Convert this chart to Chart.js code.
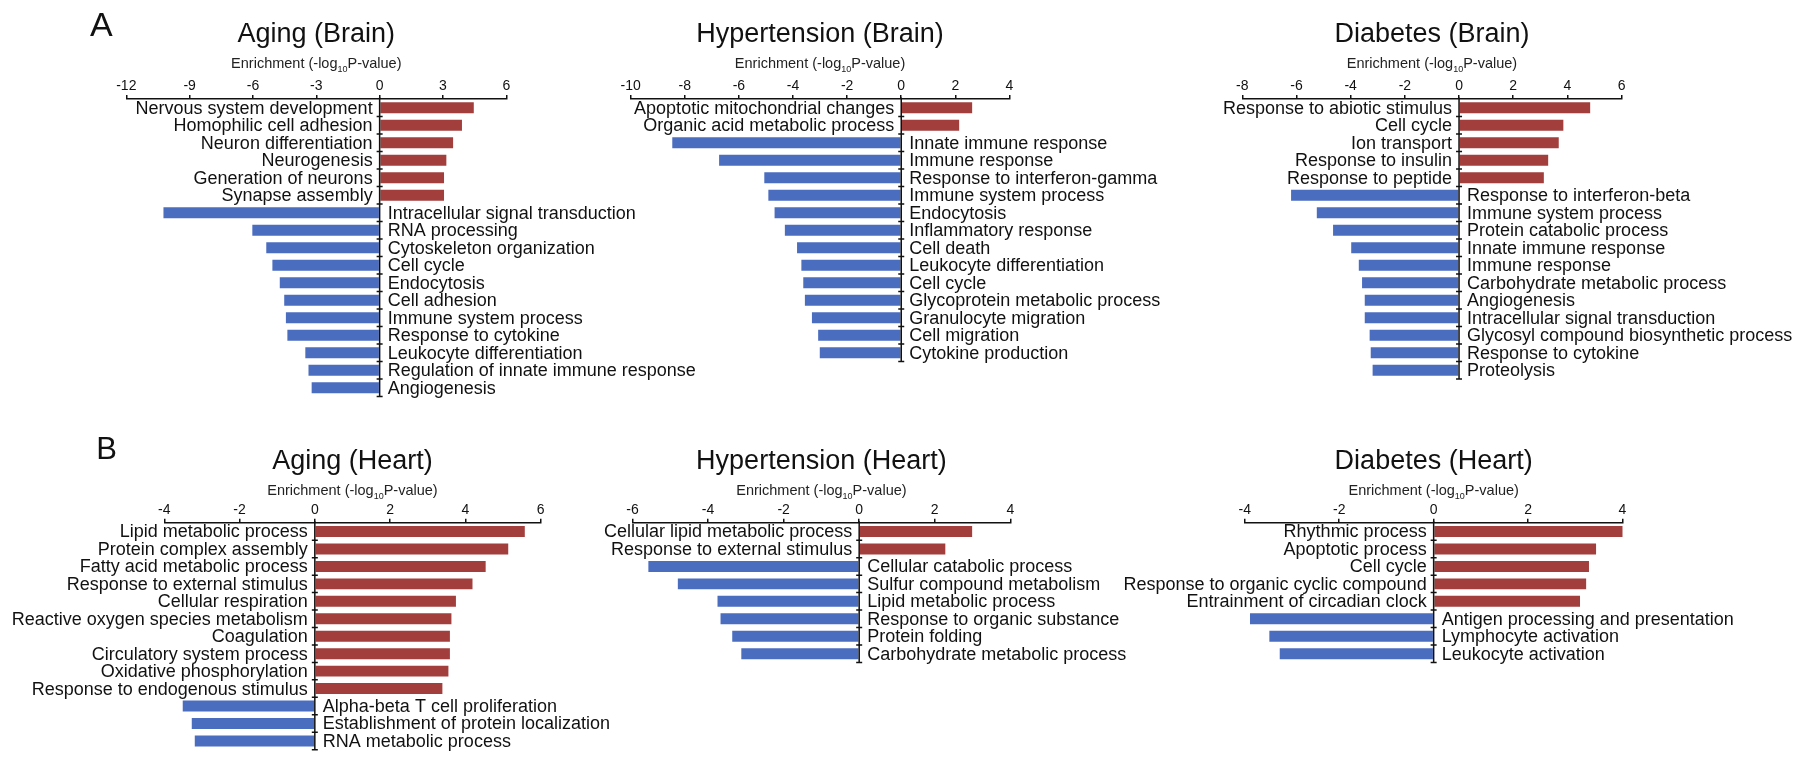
<!DOCTYPE html>
<html>
<head>
<meta charset="utf-8">
<script src="https://cdn.jsdelivr.net/npm/chart.js@4.4.1/dist/chart.umd.min.js"></script>
<style>
  html, body { margin: 0; padding: 0; background: #fff; }
  #page { position: relative; width: 1800px; height: 758px; overflow: hidden; background: #fff; }
  #page canvas { position: absolute; left: 0; }
</style>
</head>
<body>
<div id="page">
  <canvas id="agingBrain" width="1800" height="420" style="top:0px"></canvas>
  <canvas id="hypertensionBrain" width="1800" height="420" style="top:0px"></canvas>
  <canvas id="diabetesBrain" width="1800" height="420" style="top:0px"></canvas>
  <canvas id="agingHeart" width="1800" height="338" style="top:420px"></canvas>
  <canvas id="hypertensionHeart" width="1800" height="338" style="top:420px"></canvas>
  <canvas id="diabetesHeart" width="1800" height="338" style="top:420px"></canvas>
</div>
<script>
// --- data (-log10 P, negative = down-regulated) ---
const agingBrainLabels = ['Nervous system development', 'Homophilic cell adhesion', 'Neuron differentiation', 'Neurogenesis',
  'Generation of neurons', 'Synapse assembly', 'Intracellular signal transduction', 'RNA processing', 'Cytoskeleton organization',
  'Cell cycle', 'Endocytosis', 'Cell adhesion', 'Immune system process', 'Response to cytokine', 'Leukocyte differentiation',
  'Regulation of innate immune response', 'Angiogenesis'];
const agingBrainValues = [4.46, 3.9, 3.48, 3.16, 3.05, 3.05, -10.24, -6.03, -5.37, -5.08, -4.73, -4.52, -4.44, -4.37, -3.52, -3.37, -3.22];
const agingBrainAxis = [-12, 6, 3];

const hypertensionBrainLabels = ['Apoptotic mitochondrial changes', 'Organic acid metabolic process', 'Innate immune response',
  'Immune response', 'Response to interferon-gamma', 'Immune system process', 'Endocytosis', 'Inflammatory response', 'Cell death',
  'Leukocyte differentiation', 'Cell cycle', 'Glycoprotein metabolic process', 'Granulocyte migration', 'Cell migration',
  'Cytokine production'];
const hypertensionBrainValues = [2.62, 2.14, -8.46, -6.73, -5.06, -4.91, -4.68, -4.30, -3.85, -3.69, -3.62, -3.56, -3.30, -3.07, -3.01];
const hypertensionBrainAxis = [-10, 4, 2];

const diabetesBrainLabels = ['Response to abiotic stimulus', 'Cell cycle', 'Ion transport', 'Response to insulin', 'Response to peptide',
  'Response to interferon-beta', 'Immune system process', 'Protein catabolic process', 'Innate immune response', 'Immune response',
  'Carbohydrate metabolic process', 'Angiogenesis', 'Intracellular signal transduction', 'Glycosyl compound biosynthetic process',
  'Response to cytokine', 'Proteolysis'];
const diabetesBrainValues = [4.84, 3.85, 3.68, 3.29, 3.13, -6.20, -5.25, -4.65, -3.98, -3.70, -3.58, -3.48, -3.48, -3.30, -3.26, -3.19];
const diabetesBrainAxis = [-8, 6, 2];

const agingHeartLabels = ['Lipid metabolic process', 'Protein complex assembly', 'Fatty acid metabolic process',
  'Response to external stimulus', 'Cellular respiration', 'Reactive oxygen species metabolism', 'Coagulation',
  'Circulatory system process', 'Oxidative phosphorylation', 'Response to endogenous stimulus', 'Alpha-beta T cell proliferation',
  'Establishment of protein localization', 'RNA metabolic process'];
const agingHeartValues = [5.58, 5.14, 4.54, 4.19, 3.75, 3.63, 3.59, 3.59, 3.55, 3.39, -3.51, -3.27, -3.19];
const agingHeartAxis = [-4, 6, 2];

const hypertensionHeartLabels = ['Cellular lipid metabolic process', 'Response to external stimulus', 'Cellular catabolic process',
  'Sulfur compound metabolism', 'Lipid metabolic process', 'Response to organic substance', 'Protein folding',
  'Carbohydrate metabolic process'];
const hypertensionHeartValues = [2.99, 2.28, -5.58, -4.80, -3.75, -3.67, -3.36, -3.12];
const hypertensionHeartAxis = [-6, 4, 2];

const diabetesHeartLabels = ['Rhythmic process', 'Apoptotic process', 'Cell cycle', 'Response to organic cyclic compound',
  'Entrainment of circadian clock', 'Antigen processing and presentation', 'Lymphocyte activation', 'Leukocyte activation'];
const diabetesHeartValues = [4.08, 3.44, 3.29, 3.23, 3.10, -3.89, -3.48, -3.26];
const diabetesHeartAxis = [-4, 4, 2];

const RED = '#a23f3d';
const BLUE = '#4b6dc0';
const INK = '#111';
const FONT = "'Liberation Sans', Arial, Helvetica, sans-serif";

// row geometry (canvas-local pixels): plot top, band height, text baselines
const rows = {
  A: { height: 420, top: 99, band: 17.5, titleBase: 41.7, enrichBase: 68.3, letterBase: 36, letterSize: 34 },
  B: { height: 338, top: 102.8, band: 17.45, titleBase: 49.3, enrichBase: 75, letterBase: 38.5, letterSize: 31 }
};

// draws the zero axis, category ticks, term labels, titles and panel letter
const panelDecor = {
  id: 'panelDecor',
  afterDatasetsDraw(chart, args, opts) {
    const { ctx, chartArea } = chart;
    const xs = chart.scales.x, ys = chart.scales.y;
    const x0 = xs.getPixelForValue(0);
    const labels = chart.data.labels;
    const values = chart.data.datasets[0].data;
    const band = (chartArea.bottom - chartArea.top) / labels.length;
    const r = opts.row;

    ctx.save();
    ctx.strokeStyle = INK;
    ctx.lineWidth = 1.5;
    ctx.beginPath();
    ctx.moveTo(x0, chartArea.top - 1.5);
    ctx.lineTo(x0, chartArea.bottom);
    for (let i = 0; i < labels.length; i++) {
      const yy = ys.getPixelForValue(i) + band / 2;
      ctx.moveTo(x0 - 3, yy);
      ctx.lineTo(x0 + 3, yy);
    }
    ctx.stroke();

    ctx.fillStyle = INK;
    ctx.font = `18px ${FONT}`;
    ctx.textBaseline = 'middle';
    labels.forEach((lab, i) => {
      const yy = ys.getPixelForValue(i) + 1;
      if (values[i] > 0) {
        ctx.textAlign = 'right';
        ctx.fillText(lab, x0 - 7, yy);
      } else {
        ctx.textAlign = 'left';
        ctx.fillText(lab, x0 + 8, yy);
      }
    });

    const cx = (chartArea.left + chartArea.right) / 2;
    ctx.textBaseline = 'alphabetic';
    ctx.textAlign = 'center';
    ctx.font = `27px ${FONT}`;
    ctx.fillText(opts.title, cx, r.titleBase);

    // axis title with subscript 10
    const ey = r.enrichBase;
    const parts = ['Enrichment (-log', '10', 'P-value)'];
    ctx.fillStyle = '#222';
    ctx.font = `14.5px ${FONT}`;
    const w1 = ctx.measureText(parts[0]).width;
    const w3 = ctx.measureText(parts[2]).width;
    ctx.font = `9px ${FONT}`;
    const w2 = ctx.measureText(parts[1]).width;
    let sx = cx - (w1 + w2 + w3) / 2;
    ctx.textAlign = 'left';
    ctx.font = `14.5px ${FONT}`;
    ctx.fillText(parts[0], sx, ey);
    sx += w1;
    ctx.font = `9px ${FONT}`;
    ctx.fillText(parts[1], sx, ey + 4);
    sx += w2;
    ctx.font = `14.5px ${FONT}`;
    ctx.fillText(parts[2], sx, ey);

    if (opts.letter) {
      ctx.fillStyle = INK;
      ctx.textAlign = 'center';
      ctx.font = `${r.letterSize}px ${FONT}`;
      ctx.fillText(opts.letter, opts.letterX, r.letterBase);
    }
    ctx.restore();
  }
};

function makePanel(id, row, labels, values, axis, left, right, title, letter, letterX) {
  const r = rows[row];
  const axisHeight = 30;
  new Chart(document.getElementById(id), {
    type: 'bar',
    data: {
      labels: labels,
      datasets: [{
        data: values,
        backgroundColor: values.map(v => v > 0 ? RED : BLUE),
        borderWidth: 0,
        barPercentage: 0.63,
        categoryPercentage: 1
      }]
    },
    options: {
      indexAxis: 'y',
      responsive: false,
      animation: false,
      devicePixelRatio: 1,
      layout: {
        padding: {
          left: left,
          right: 1800 - right,
          top: r.top - axisHeight,
          bottom: r.height - r.top - labels.length * r.band
        }
      },
      scales: {
        x: {
          position: 'top',
          min: axis[0],
          max: axis[1],
          ticks: {
            stepSize: axis[2],
            color: INK,
            font: { size: 14, family: FONT },
            padding: 0,
            maxRotation: 0,
            autoSkip: false
          },
          grid: {
            display: true,
            drawOnChartArea: false,
            drawTicks: true,
            tickLength: 4,
            color: INK,
            lineWidth: 1.5
          },
          border: { display: true, color: INK, width: 1.5 },
          afterFit: s => { s.height = axisHeight; }
        },
        y: { display: false }
      },
      plugins: {
        legend: { display: false },
        tooltip: { enabled: false },
        panelDecor: { title: title, row: r, letter: letter, letterX: letterX }
      }
    },
    plugins: [panelDecor]
  });
}

makePanel('agingBrain', 'A', agingBrainLabels, agingBrainValues, agingBrainAxis, 126.3, 506.3, 'Aging (Brain)', 'A', 101.3);
makePanel('hypertensionBrain', 'A', hypertensionBrainLabels, hypertensionBrainValues, hypertensionBrainAxis, 630.6, 1009.5, 'Hypertension (Brain)');
makePanel('diabetesBrain', 'A', diabetesBrainLabels, diabetesBrainValues, diabetesBrainAxis, 1242.3, 1621.6, 'Diabetes (Brain)');
makePanel('agingHeart', 'B', agingHeartLabels, agingHeartValues, agingHeartAxis, 164.3, 540.6, 'Aging (Heart)', 'B', 106.7);
makePanel('hypertensionHeart', 'B', hypertensionHeartLabels, hypertensionHeartValues, hypertensionHeartAxis, 632.5, 1010.3, 'Hypertension (Heart)');
makePanel('diabetesHeart', 'B', diabetesHeartLabels, diabetesHeartValues, diabetesHeartAxis, 1244.8, 1622.5, 'Diabetes (Heart)');
</script>
</body>
</html>
